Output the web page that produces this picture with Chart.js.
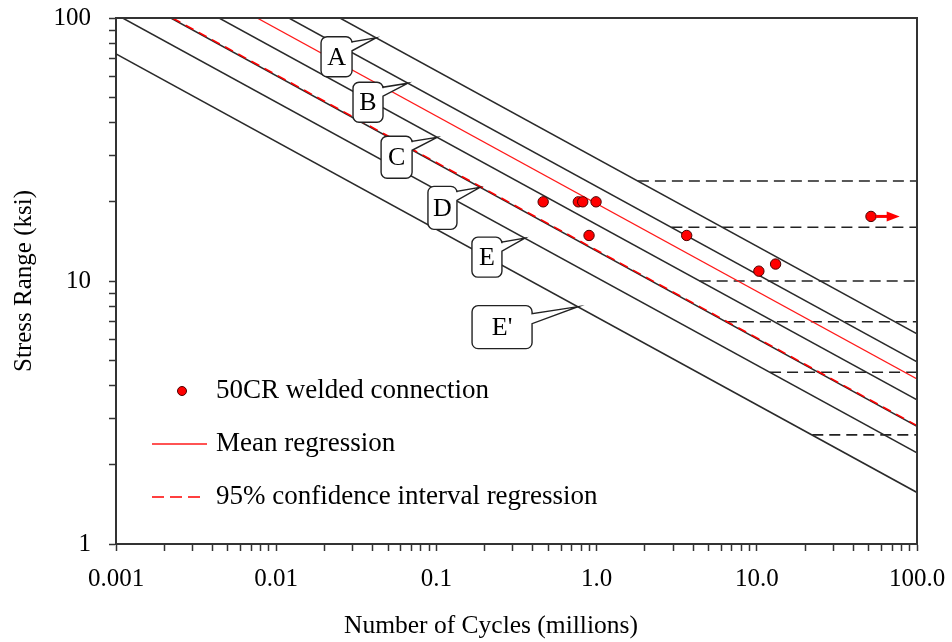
<!DOCTYPE html>
<html>
<head>
<meta charset="utf-8">
<script src="https://cdn.jsdelivr.net/npm/chart.js@4/dist/chart.umd.min.js"></script>
<style>
html,body{margin:0;padding:0;background:#fff;}
#wrap{width:952px;height:642px;}
</style>
</head>
<body>
<div id="wrap"><canvas id="c" width="952" height="642"></canvas></div>
<script>
const SERIF = "'Liberation Serif', 'Times New Roman', serif";

// ---- Axis ticks ----
const xTickValues = [0.001, 0.01, 0.1, 1, 10, 100];
const xTickLabels = ['0.001', '0.01', '0.1', '1.0', '10.0', '100.0'];
const yTickValues = [1, 10, 100];
const yTickLabels = ['1', '10', '100'];

// ---- Detail category S-N lines (cycles in millions, stress range in ksi) ----
const categoryNames  = ['A', 'B', 'C', 'D', 'E', "E'"];
const categoryStartX = [0.025, 0.012, 0.0044, 0.0022, 0.0011, 0.001];
const categoryStartY = [100, 100, 100, 100, 100, 73];
const categoryEndX   = [100, 100, 100, 100, 100, 100];
const categoryEndY   = [6.30, 4.93, 3.53, 2.80, 2.22, 1.57];

// ---- Constant amplitude fatigue thresholds (dashed horizontals) ----
const caftStartX = [1.81, 2.93, 4.4, 6.41, 12.1, 22.2];
const caftEndX   = [100, 100, 100, 100, 100, 100];
const caftY      = [24, 16, 10, 7, 4.5, 2.6];

// ---- Regressions ----
const meanRegX = [0.0076, 100];
const meanRegY = [100, 4.24];
const ciRegX   = [0.00225, 100];
const ciRegY   = [100, 2.82];

// ---- Test data (50CR welded connection) ----
const testCycles = [0.464, 0.769, 0.819, 0.992, 0.897, 3.65, 10.3, 13.1, 51.6];
const testStress = [20.0, 20.0, 20.0, 20.0, 14.9, 14.9, 10.9, 11.6, 17.6];
const runoutIndex   = [8];
const runoutArrowToX = [78];

// ---- Category callout tips (on each line) ----
const calloutTipX = [0.042, 0.0665, 0.101, 0.187, 0.357, 0.766];
const calloutTipY = [84.1, 56.5, 35.2, 22.7, 14.55, 7.99];

function pts(xs, ys) { return xs.map((v, i) => ({x: v, y: ys[i]})); }
function labelFor(v, values, labels) {
  const i = values.findIndex(t => Math.abs(Math.log10(t) - Math.log10(v)) < 1e-6);
  return i >= 0 ? labels[i] : '';
}
function buildLogTicks(values) {
  const out = [];
  values.forEach((d, i) => {
    if (i < values.length - 1) {
      for (let k = 1; k < 10; k++) out.push({value: d * k});
    } else out.push({value: d});
  });
  return out;
}

const datasets = [];
datasets.push({
  label: '50CR welded connection',
  data: pts(testCycles, testStress),
  showLine: false, pointRadius: 5.2, pointHoverRadius: 5.2,
  pointBackgroundColor: '#ff0000', pointBorderColor: '#4a0000', pointBorderWidth: 1
});
datasets.push({
  label: 'Mean regression',
  data: pts(meanRegX, meanRegY),
  showLine: true, pointRadius: 0, borderColor: '#ff1a1a', borderWidth: 1.3
});
datasets.push({
  label: '95% confidence interval regression',
  data: pts(ciRegX, ciRegY),
  showLine: true, pointRadius: 0, borderColor: '#ff0000', borderWidth: 1.6, borderDash: [9, 6]
});
categoryNames.forEach((n, i) => {
  datasets.push({
    label: 'Category ' + n,
    data: [{x: categoryStartX[i], y: categoryStartY[i]}, {x: categoryEndX[i], y: categoryEndY[i]}],
    showLine: true, pointRadius: 0, borderColor: '#2a2a2a', borderWidth: 1.5
  });
});
categoryNames.forEach((n, i) => {
  datasets.push({
    label: 'CAFT ' + n,
    data: [{x: caftStartX[i], y: caftY[i]}, {x: caftEndX[i], y: caftY[i]}],
    showLine: true, pointRadius: 0, borderColor: '#222', borderWidth: 1.6, borderDash: [11, 6]
  });
});

const extras = {
  id: 'extras',
  afterDatasetsDraw(chart, args, opts) {
    const {ctx, chartArea: a} = chart;
    const x = chart.scales.x, y = chart.scales.y;
    ctx.save();
    // top / right frame
    ctx.strokeStyle = '#333'; ctx.lineWidth = 2;
    ctx.beginPath();
    ctx.moveTo(a.left, a.top); ctx.lineTo(a.right, a.top); ctx.lineTo(a.right, a.bottom);
    ctx.stroke();

    // run-out arrows
    runoutIndex.forEach((idx, k) => {
      const px = x.getPixelForValue(testCycles[idx]);
      const py = y.getPixelForValue(testStress[idx]);
      const tx = x.getPixelForValue(runoutArrowToX[k]);
      ctx.strokeStyle = '#ff0000'; ctx.fillStyle = '#ff0000'; ctx.lineWidth = 3;
      ctx.beginPath(); ctx.moveTo(px + 5, py); ctx.lineTo(tx - 11, py); ctx.stroke();
      ctx.beginPath(); ctx.moveTo(tx, py); ctx.lineTo(tx - 13, py - 5); ctx.lineTo(tx - 13, py + 5);
      ctx.closePath(); ctx.fill();
    });

    // callouts
    categoryNames.forEach((name, i) => {
      const st = opts.callouts[i];
      const tx = x.getPixelForValue(calloutTipX[i]);
      const ty = y.getPixelForValue(calloutTipY[i]);
      const right = tx - st.gap, left = right - st.w, top = ty - 1, bottom = top + st.h;
      const r = 6;
      ctx.beginPath();
      ctx.moveTo(left + r, top);
      ctx.lineTo(right - r, top);
      ctx.arcTo(right, top, right, top + r, r);
      ctx.lineTo(right, top + st.t0);
      ctx.lineTo(tx, ty);
      ctx.lineTo(right, top + st.t1);
      ctx.lineTo(right, bottom - r);
      ctx.arcTo(right, bottom, right - r, bottom, r);
      ctx.lineTo(left + r, bottom);
      ctx.arcTo(left, bottom, left, bottom - r, r);
      ctx.lineTo(left, top + r);
      ctx.arcTo(left, top, left + r, top, r);
      ctx.closePath();
      ctx.fillStyle = '#fff'; ctx.fill();
      ctx.strokeStyle = '#222'; ctx.lineWidth = 1.4; ctx.stroke();
      ctx.fillStyle = '#000';
      ctx.font = '26px ' + SERIF;
      ctx.textAlign = 'center'; ctx.textBaseline = 'middle';
      ctx.fillText(name, (left + right) / 2, (top + bottom) / 2 + 1);
    });

    // legend
    const ds = chart.data.datasets;
    const lx = a.left + 36, ly = a.top + 373, gap = 53;
    ctx.font = '27px ' + SERIF;
    ctx.textAlign = 'left'; ctx.textBaseline = 'middle';
    // marker
    ctx.beginPath(); ctx.arc(lx + 30, ly, 4.5, 0, Math.PI * 2);
    ctx.fillStyle = ds[0].pointBackgroundColor; ctx.fill();
    ctx.strokeStyle = ds[0].pointBorderColor; ctx.lineWidth = 1; ctx.stroke();
    ctx.fillStyle = '#000'; ctx.fillText(ds[0].label, lx + 64, ly);
    // mean line
    ctx.beginPath(); ctx.moveTo(lx, ly + gap); ctx.lineTo(lx + 55, ly + gap);
    ctx.strokeStyle = ds[1].borderColor; ctx.lineWidth = ds[1].borderWidth; ctx.stroke();
    ctx.fillStyle = '#000'; ctx.fillText(ds[1].label, lx + 64, ly + gap);
    // ci line
    ctx.setLineDash([12, 6]);
    ctx.beginPath(); ctx.moveTo(lx, ly + 2 * gap); ctx.lineTo(lx + 50, ly + 2 * gap);
    ctx.strokeStyle = ds[2].borderColor; ctx.lineWidth = ds[2].borderWidth; ctx.stroke();
    ctx.setLineDash([]);
    ctx.fillStyle = '#000'; ctx.fillText(ds[2].label, lx + 64, ly + 2 * gap);
    ctx.restore();
  }
};

new Chart(document.getElementById('c'), {
  type: 'scatter',
  data: {datasets},
  options: {
    responsive: false,
    animation: false,
    events: [],
    layout: {padding: {top: 18, right: 35, bottom: 0, left: 0}},
    plugins: {
      legend: {display: false},
      tooltip: {enabled: false},
      extras: {
        callouts: [
          {w: 31, h: 40, gap: 24, t0: 5, t1: 14},
          {w: 30, h: 40, gap: 25, t0: 5, t1: 14},
          {w: 31, h: 42, gap: 25, t0: 5, t1: 14},
          {w: 29, h: 43, gap: 23, t0: 5, t1: 14},
          {w: 30, h: 40, gap: 23, t0: 5, t1: 14},
          {w: 60, h: 43, gap: 46, t0: 8, t1: 18}
        ]
      }
    },
    scales: {
      x: {
        type: 'logarithmic', position: 'bottom', min: 0.001, max: 100,
        afterBuildTicks: s => { s.ticks = buildLogTicks(xTickValues); },
        afterFit: s => { s.height = 98; s.paddingLeft = 0; s.paddingRight = 0; },
        ticks: {
          autoSkip: false, maxRotation: 0, minRotation: 0, padding: 13, color: '#000',
          font: {family: SERIF, size: 25},
          callback: v => labelFor(v, xTickValues, xTickLabels)
        },
        grid: {drawOnChartArea: false, drawTicks: true, tickLength: 7, tickWidth: 1.5, tickColor: '#333'},
        border: {display: true, color: '#333', width: 2},
        title: {
          display: true, text: 'Number of Cycles (millions)        ', color: '#000',
          font: {family: SERIF, size: 25.5}, padding: {top: 0, bottom: 0}
        }
      },
      y: {
        type: 'logarithmic', position: 'left', min: 1, max: 100,
        afterBuildTicks: s => { s.ticks = buildLogTicks(yTickValues); },
        afterFit: s => { s.width = 116; s.paddingTop = 0; s.paddingBottom = 0; },
        ticks: {
          autoSkip: false, padding: 18, color: '#000',
          font: {family: SERIF, size: 25},
          callback: v => labelFor(v, yTickValues, yTickLabels)
        },
        grid: {drawOnChartArea: false, drawTicks: true, tickLength: 7, tickWidth: 1.5, tickColor: '#333'},
        border: {display: true, color: '#333', width: 2},
        title: {
          display: true, text: 'Stress Range (ksi)', color: '#000',
          font: {family: SERIF, size: 25}, padding: {top: 9, bottom: 0}
        }
      }
    }
  },
  plugins: [extras]
});
</script>
</body>
</html>
